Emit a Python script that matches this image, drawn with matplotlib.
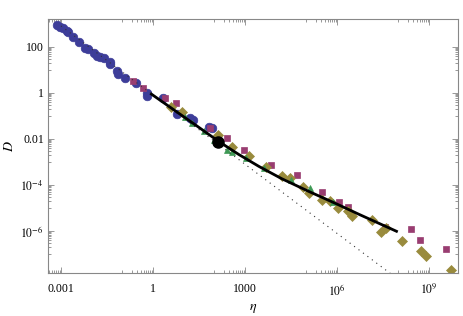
import numpy as np
import matplotlib
matplotlib.use("Agg")
import matplotlib.pyplot as plt
from matplotlib.ticker import FixedLocator, FixedFormatter, NullFormatter

plt.rcParams["font.family"] = ["Liberation Serif", "DejaVu Serif"]
plt.rcParams["mathtext.fontset"] = "stix"

# values, stored as log10(eta), log10(D)
blue_x = [-3.14, -3.03, -2.93, -2.81, -2.76, -2.62, -2.40, -2.22, -2.11, -1.92, -1.84, -1.73,
          -1.61, -1.40, -1.40, -1.16, -1.13, -0.91, -0.54, -0.19, -0.20, 0.32, 0.77, 1.22,
          1.31, 1.84, 1.93]
blue_y = [2.94, 2.87, 2.80, 2.70, 2.65, 2.40, 2.19, 1.96, 1.90, 1.73, 1.60, 1.55,
          1.51, 1.34, 1.23, 0.95, 0.80, 0.65, 0.41, 0.01, -0.12, -0.24, -0.91, -1.10,
          -1.19, -1.50, -1.55]

purple_x = [-0.64, -0.31, 0.39, 0.75, 1.86, 2.41, 2.98, 3.85, 4.68, 5.52, 6.07, 6.37,
            7.56, 8.40, 8.71, 9.54]
purple_y = [0.53, 0.21, -0.24, -0.46, -1.52, -1.98, -2.48, -3.12, -3.57, -4.29, -4.73, -4.94,
            -5.84, -5.93, -6.39, -6.78]

olive_x = [0.59, 0.96, 2.13, 2.57, 3.13, 3.67, 4.21, 4.47, 4.88, 5.10, 5.50, 5.77,
           6.04, 6.37, 6.48, 7.13, 7.42, 7.60, 8.11, 8.73, 8.90, 9.71]
olive_y = [-0.62, -0.82, -1.83, -2.34, -2.73, -3.21, -3.61, -3.68, -4.10, -4.34, -4.65, -4.70,
           -4.99, -5.13, -5.35, -5.52, -6.06, -5.88, -6.43, -6.87, -7.07, -7.69]

green_x = [1.04, 1.26, 1.66, 1.99, 2.40, 2.58, 3.02, 3.63, 4.50, 5.12, 5.86]
green_y = [-1.05, -1.32, -1.66, -2.03, -2.48, -2.56, -2.84, -3.28, -3.79, -4.15, -4.73]

fit_x = [-0.05, 0.70, 1.41, 2.13, 2.80, 3.46, 4.20, 5.08, 6.00, 6.71, 7.94]
fit_y = [-0.06, -0.76, -1.42, -2.10, -2.68, -3.20, -3.73, -4.28, -4.83, -5.27, -6.01]

slope1_x = [-3.0, 10.0]
slope1_y = [2.9, -10.1]

dot_x = [2.13]
dot_y = [-2.14]

col_blue = (0.24, 0.24, 0.6)
col_purple = (0.6, 0.24, 0.442)
col_olive = (0.6, 0.547, 0.24)
col_green = (0.24, 0.6, 0.33)
frame = "#888888"

fig = plt.figure(figsize=(4.63, 3.16), dpi=100)
ax = fig.add_axes([48 / 463, 1 - 273 / 316, 410 / 463, 254 / 316])

p = lambda v: 10.0 ** np.array(v)

ax.plot(p(blue_x), p(blue_y), "o", ms=6.2, color=col_blue, mec=col_blue, mew=0.5, zorder=2)
ax.plot(p(slope1_x), p(slope1_y), color="#333333", lw=0.8, ls=(0, (1, 4)), zorder=3)
ax.plot(p(purple_x), p(purple_y), "s", ms=5.0, color=col_purple, mec=col_purple, mew=0.5, zorder=2)
ax.plot(p(olive_x), p(olive_y), "D", ms=4.8, color=col_olive, mec=col_olive, mew=0.5, zorder=2)
ax.plot(p(green_x), p(green_y), "^", ms=4.8, color=col_green, mec=col_green, mew=0.5, zorder=2)
ax.plot(p(fit_x), p(fit_y), color="black", lw=2.0, zorder=4)
ax.plot(p(dot_x), p(dot_y), "o", ms=8.0, color="black", zorder=5)

ax.set_xscale("log")
ax.set_yscale("log")
ax.set_xlim(10 ** -3.424, 10 ** 9.946)
ax.set_ylim(10 ** -7.82, 10 ** 3.20)

xmaj = [-3, 0, 3, 6, 9]
ymaj = [2, 0, -2, -4, -6]
ax.xaxis.set_major_locator(FixedLocator([10.0 ** k for k in xmaj]))
ax.xaxis.set_major_formatter(FixedFormatter(["0.001", "1", "1000", r"$10^6$", r"$10^9$"]))
ax.yaxis.set_major_locator(FixedLocator([10.0 ** k for k in ymaj]))
ax.yaxis.set_major_formatter(FixedFormatter(["100", "1", "0.01", r"$10^{-4}$", r"$10^{-6}$"]))
ax.xaxis.set_minor_locator(FixedLocator([m * 10.0 ** (k - 1) for k in xmaj for m in range(1, 10)]))
ax.yaxis.set_minor_locator(FixedLocator([m * 10.0 ** (k - 1) for k in ymaj for m in range(1, 10)]))
ax.xaxis.set_minor_formatter(NullFormatter())
ax.yaxis.set_minor_formatter(NullFormatter())

ax.tick_params(which="both", direction="in", top=True, right=True, colors=frame,
               labelcolor="black", labelsize=8.5, width=0.6)
ax.tick_params(which="major", length=4.5)
ax.tick_params(which="minor", length=2)
ax.tick_params(axis="x", which="major", pad=7)
ax.tick_params(axis="y", which="major", pad=3)
for s in ax.spines.values():
    s.set_color(frame)
    s.set_linewidth(0.8)

ax.set_xlabel(r"$\eta$", fontsize=10, labelpad=3)
ax.set_ylabel(r"$D$", fontsize=10, labelpad=3)

fig.savefig("out.png", dpi=100)
